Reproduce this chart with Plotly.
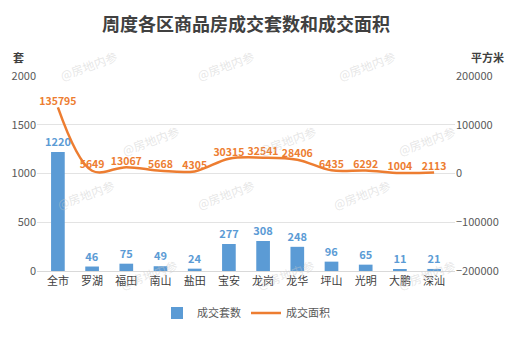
import plotly.graph_objects as go

categories = ["全市", "罗湖", "福田", "南山", "盐田", "宝安", "龙岗", "龙华", "坪山", "光明", "大鹏", "深汕"]
units = [1220, 46, 75, 49, 24, 277, 308, 248, 96, 65, 11, 21]
area = [135795, 5649, 13067, 5668, 4305, 30315, 32541, 28406, 6435, 6292, 1004, 2113]

BLUE = "#5B9BD5"
ORANGE = "#ED7D31"
FONT = "Noto Sans CJK SC"

fig = go.Figure()
fig.add_trace(go.Bar(
    x=categories, y=units, name="成交套数", marker_color=BLUE,
    text=units, textposition="outside", cliponaxis=False, constraintext="none",
    textfont=dict(color=BLUE, size=11, family=FONT, weight="bold"),
    yaxis="y",
))
fig.add_trace(go.Scatter(
    x=categories, y=area, name="成交面积", mode="lines+text",
    line=dict(color=ORANGE, width=2.5, shape="spline", smoothing=1.0),
    text=area, textposition="top center", cliponaxis=False,
    textfont=dict(color=ORANGE, size=10.5, family=FONT, weight="bold"),
    yaxis="y2",
))

fig.update_layout(
    template="none",
    width=516, height=364,
    margin=dict(l=37, r=61, t=76, b=93, autoexpand=False),
    paper_bgcolor="white", plot_bgcolor="white",
    font=dict(family=FONT, color="#595959", size=11),
    bargap=0.6,
    showlegend=True,
    legend=dict(orientation="h", x=0.5, xanchor="center", yref="container", y=(364 - 313) / 364,
                yanchor="middle", font=dict(size=11, color="#595959"), traceorder="normal"),
    xaxis=dict(showgrid=False, linecolor="#D9D9D9", showline=True, ticks="", automargin=False,
               tickfont=dict(size=11, color="#404040")),
    yaxis=dict(range=[0, 2000], dtick=500, gridcolor="#E3E3E3", zeroline=False, automargin=False,
               tickfont=dict(size=11, color="#595959"), ticks="", showline=False),
    yaxis2=dict(range=[-200000, 200000], dtick=100000, overlaying="y", side="right",
                showgrid=False, zeroline=False, tickformat="d", automargin=False,
                tickfont=dict(size=11, color="#595959"), ticks=""),
)

ann_list = [
    dict(text="<b>周度各区商品房成交套数和成交面积</b>", xref="paper", yref="paper",
         x=0.5, y=1, yshift=53, yanchor="middle", showarrow=False,
         font=dict(size=18, color="#404040", family=FONT)),
    dict(text="<b>套</b>", xref="paper", yref="paper", x=0, xshift=-19, y=1, yshift=19,
         xanchor="center", yanchor="middle", showarrow=False,
         font=dict(size=11, color="#404040", family=FONT)),
    dict(text="<b>平方米</b>", xref="paper", yref="paper", x=1, xshift=32, y=1, yshift=19,
         xanchor="center", yanchor="middle", showarrow=False,
         font=dict(size=11, color="#404040", family=FONT)),
]
wm_pos = [(55, 45), (225, 45), (400, 45), (117, 120), (287, 120), (460, 120),
          (52, 215), (225, 215), (395, 215), (115, 295), (285, 295), (460, 295)]
for (px, py) in wm_pos:
    ann_list.append(dict(text="@房地内参", xref="paper", yref="paper",
                         x=(px - 37) / (516 - 37 - 61), y=(364 - 93 - py) / (364 - 76 - 93),
                         showarrow=False, textangle=-20,
                         font=dict(size=12, color="rgba(200,200,200,0.45)", family=FONT)))
fig.update_layout(annotations=ann_list)

fig.write_html("out.html", config={"displayModeBar": False},
               post_script="document.body.style.margin='0';document.body.style.overflow='hidden';")
